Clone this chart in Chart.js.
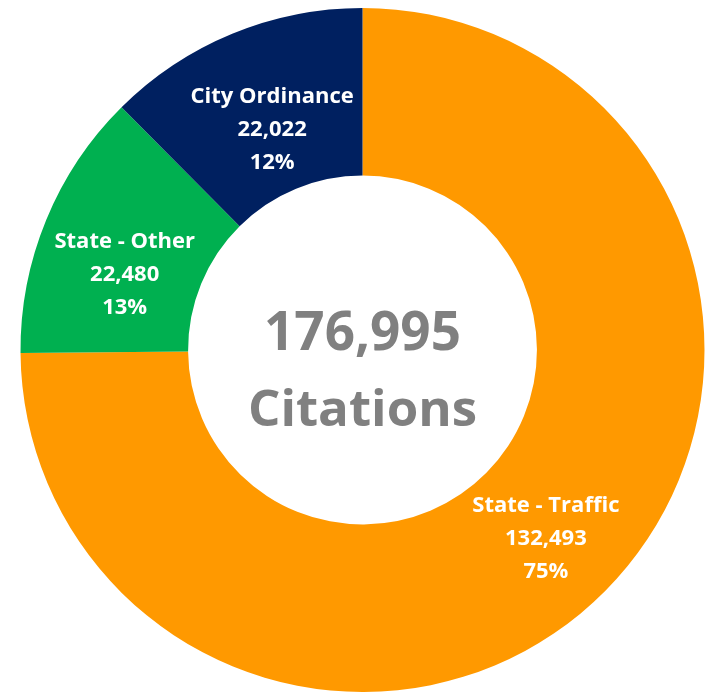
<!DOCTYPE html>
<html lang="en">
<head>
    <meta charset="UTF-8">
    <title>Citations by Type</title>
    <script src="https://cdn.jsdelivr.net/npm/chart.js"></script>
    <style>
        body { margin: 0; background: #fff; }
        #wrap { width: 707px; height: 695px; }
    </style>
</head>
<body>
<div id="wrap"><canvas id="chart"></canvas></div>
<script>
    const categories = ['State - Traffic', 'State - Other', 'City Ordinance'];
    const citations = [132493, 22480, 22022];
    const percentLabels = ['75%', '13%', '12%'];
    const colors = ['#FF9900', '#00B050', '#002060'];
    const centerLines = ['176,995', 'Citations'];

    const fontFamily = "'Open Sans', 'Liberation Sans', sans-serif";
    // nudges so the labels sit where the original put them
    const labelShift = [[0, 7], [1, 23], [8, 18]];

    // draws the three-line label on each slice and the total in the hole
    const labelPlugin = {
        id: 'sliceLabels',
        afterDatasetsDraw(chart) {
            const ctx = chart.ctx;
            const meta = chart.getDatasetMeta(0);
            ctx.save();
            ctx.textAlign = 'center';
            ctx.textBaseline = 'middle';
            ctx.fillStyle = '#ffffff';
            ctx.font = `bold 22px ${fontFamily}`;
            meta.data.forEach((arc, i) => {
                const p = arc.tooltipPosition();
                const x = p.x + labelShift[i][0];
                const y = p.y + labelShift[i][1];
                const lines = [categories[i], citations[i].toLocaleString('en-US'), percentLabels[i]];
                lines.forEach((t, j) => {
                    ctx.fillText(t, x, y + (j - 1) * 33);
                });
            });
            const cx = (chart.chartArea.left + chart.chartArea.right) / 2;
            const cy = (chart.chartArea.top + chart.chartArea.bottom) / 2;
            ctx.fillStyle = '#808080';
            ctx.font = `bold 53px ${fontFamily}`;
            ctx.fillText(centerLines[0], cx, cy - 15);
            ctx.font = `bold 51px ${fontFamily}`;
            ctx.fillText(centerLines[1], cx, cy + 61);
            ctx.restore();
        }
    };

    new Chart(document.getElementById('chart'), {
        type: 'doughnut',
        data: {
            labels: categories,
            datasets: [{
                data: citations,
                backgroundColor: colors,
                borderWidth: 0
            }]
        },
        options: {
            responsive: true,
            maintainAspectRatio: false,
            animation: false,
            cutout: '51%',
            layout: { padding: { left: 18, right: 0, top: 8, bottom: 3 } },
            plugins: {
                legend: { display: false },
                tooltip: { enabled: false }
            }
        },
        plugins: [labelPlugin]
    });
</script>
</body>
</html>
